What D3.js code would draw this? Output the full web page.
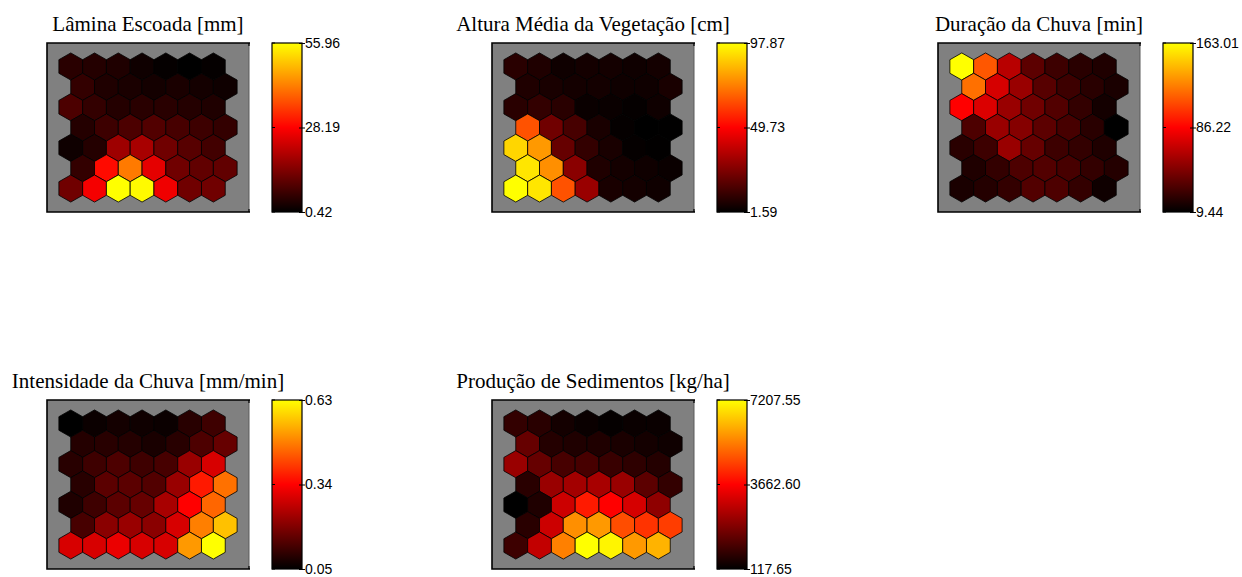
<!DOCTYPE html>
<html>
<head>
<meta charset="utf-8">
<script src="https://cdn.jsdelivr.net/npm/d3@7"></script>
<style>
  body { margin: 0; background: #fff; }
  .title { font-family: "Liberation Serif", "Times New Roman", serif; font-size: 21px; fill: #000; }
  .cbar text { font-family: "Liberation Sans", Arial, sans-serif; font-size: 14px; fill: #000; }
</style>
</head>
<body>
<div id="chart"></div>
<script>
// Component planes of a 7x7 hexagonal SOM (rows top to bottom, odd rows shifted right)
const titles = [
    "Lâmina Escoada [mm]",
    "Altura Média da Vegetação [cm]",
    "Duração da Chuva [min]",
    "Intensidade da Chuva [mm/min]",
    "Produção de Sedimentos [kg/ha]"
];

const lamina = [
    [4.86, 4.31, 3.75, 2.09, 0.98, 0.42, 0.98],
    [5.97, 3.75, 3.20, 2.64, 3.20, 2.64, 2.09],
    [8.75, 5.97, 4.31, 4.86, 4.86, 4.31, 3.75],
    [4.31, 7.08, 8.75, 9.31, 8.20, 7.08, 5.97],
    [2.09, 4.31, 17.64, 18.75, 12.64, 9.86, 7.64],
    [5.97, 29.30, 41.52, 25.41, 12.64, 10.97, 10.97],
    [12.64, 27.08, 55.96, 55.40, 26.52, 12.64, 12.64]
];

const altura = [
    [9.29, 7.37, 4.48, 5.44, 5.44, 4.48, 5.44],
    [7.37, 6.40, 5.44, 5.44, 4.48, 4.48, 6.40],
    [9.29, 11.22, 9.29, 3.52, 3.52, 2.55, 4.48],
    [65.13, 22.77, 15.07, 6.40, 2.55, 1.59, 1.80],
    [90.17, 78.61, 20.85, 11.22, 6.40, 2.55, 1.90],
    [93.06, 76.69, 27.59, 7.37, 5.44, 4.48, 3.52],
    [97.87, 93.06, 65.13, 30.47, 6.40, 5.44, 4.48]
];

const duracao = [
    [163.01, 112.33, 64.73, 37.08, 27.87, 21.73, 18.65],
    [120.01, 73.94, 55.51, 35.55, 27.87, 21.73, 17.12],
    [86.23, 75.48, 55.51, 43.23, 34.01, 24.80, 15.58],
    [32.48, 55.51, 49.37, 37.08, 30.94, 21.73, 9.44],
    [21.73, 27.87, 55.51, 40.15, 27.87, 24.80, 18.65],
    [18.65, 24.80, 32.48, 34.01, 30.94, 24.80, 20.19],
    [17.12, 20.19, 24.80, 34.01, 32.48, 24.80, 14.05]
];

const intensidade = [
    [0.050, 0.062, 0.073, 0.067, 0.062, 0.096, 0.120],
    [0.091, 0.096, 0.091, 0.079, 0.096, 0.137, 0.166],
    [0.096, 0.120, 0.137, 0.120, 0.131, 0.224, 0.294],
    [0.096, 0.154, 0.154, 0.143, 0.224, 0.369, 0.468],
    [0.085, 0.120, 0.154, 0.166, 0.241, 0.340, 0.456],
    [0.131, 0.207, 0.224, 0.207, 0.294, 0.485, 0.560],
    [0.294, 0.294, 0.317, 0.294, 0.294, 0.514, 0.630]
];

const producao = [
    [826.64, 684.84, 401.25, 259.45, 188.55, 259.45, 259.45],
    [1535.63, 613.94, 543.05, 543.05, 472.15, 401.25, 330.35],
    [2244.62, 1535.63, 1110.24, 1110.24, 897.54, 755.74, 613.94],
    [684.84, 2244.62, 2386.42, 2457.32, 2244.62, 1393.83, 826.64],
    [117.65, 543.05, 2953.61, 4017.10, 3662.60, 3095.41, 2102.82],
    [684.84, 2953.61, 5647.77, 5789.57, 4726.09, 4371.59, 4513.39],
    [968.44, 2811.81, 5435.08, 7207.55, 7065.75, 5789.57, 6144.07]
];

// colorbar limits and tick labels (bottom, middle, top)
const cbarMin = [0.42, 1.59, 9.44, 0.05, 117.65];
const cbarMax = [55.96, 97.87, 163.01, 0.63, 7207.55];
const cbarLabels = [
    ["0.42", "28.19", "55.96"],
    ["1.59", "49.73", "97.87"],
    ["9.44", "86.22", "163.01"],
    ["0.05", "0.34", "0.63"],
    ["117.65", "3662.60", "7207.55"]
];

const planes = [lamina, altura, duracao, intensidade, producao];

// layout
const panelPos = [[47, 43], [492, 43], [938, 43], [47, 400], [492, 400]];
const axW = 202, axH = 169;
const cbarGap = 225, cbarW = 30;
const sq3 = Math.sqrt(3);

const svg = d3.select("#chart").append("svg")
    .attr("width", 1242)
    .attr("height", 577);

// hexagon outline in map units (pointy top, unit spacing between neighbours)
const hexCorners = d3.range(6).map(k => {
    const a = Math.PI / 6 + k * Math.PI / 3;
    return [Math.cos(a) / sq3, Math.sin(a) / sq3];
});

planes.forEach((plane, i) => {
    const [px, py] = panelPos[i];
    const g = svg.append("g").attr("transform", `translate(${px},${py})`);

    const nRows = plane.length;
    const xScale = d3.scaleLinear().domain([0, 8.5]).range([0, axW]);
    const yScale = d3.scaleLinear().domain([0, (nRows - 1) * sq3 / 2 + 2]).range([0, axH]);

    const mid = (cbarMin[i] + cbarMax[i]) / 2;
    const color = d3.scaleLinear()
        .domain([cbarMin[i], mid, cbarMax[i]])
        .range(["#000000", "#ff0000", "#ffff00"])
        .clamp(true);

    // axes background
    g.append("rect")
        .attr("width", axW)
        .attr("height", axH)
        .attr("fill", "#808080");

    const cells = [];
    plane.forEach((row, r) => {
        row.forEach((v, c) => {
            cells.push({
                x: c + 1 + (r % 2 ? 0.5 : 0),
                y: 1 + r * sq3 / 2,
                v: v
            });
        });
    });

    const line = d3.line();
    g.selectAll(".hex")
        .data(cells)
        .enter()
        .append("path")
        .attr("class", "hex")
        .attr("d", d => line(hexCorners.map(p => [xScale(d.x + p[0]), yScale(d.y + p[1])])) + "Z")
        .attr("fill", d => color(d.v))
        .attr("stroke", "#000")
        .attr("stroke-width", 0.8);

    // box: right edge lighter, others black
    g.append("line").attr("x1", axW).attr("x2", axW).attr("y1", 0).attr("y2", axH)
        .attr("stroke", "#5a5a5a").attr("stroke-width", 1);
    g.append("path")
        .attr("d", `M${axW + 1},0H0V${axH}H${axW + 1}`)
        .attr("fill", "none")
        .attr("stroke", "#000")
        .attr("stroke-width", 1.6);
    g.append("path")
        .attr("d", `M${axW},0v3M${axW},${axH}v-3`)
        .attr("stroke", "#000")
        .attr("stroke-width", 1.2);

    // title
    g.append("text")
        .attr("class", "title")
        .attr("x", axW / 2)
        .attr("y", -12.5)
        .attr("text-anchor", "middle")
        .text(titles[i]);

    // colorbar
    const cb = g.append("g").attr("class", "cbar").attr("transform", `translate(${cbarGap},0)`);
    const gradId = "grad" + i;
    const grad = svg.append("defs").append("linearGradient")
        .attr("id", gradId)
        .attr("x1", 0).attr("y1", 1).attr("x2", 0).attr("y2", 0);
    d3.range(0, 1.0001, 0.05).forEach(t => {
        grad.append("stop")
            .attr("offset", t)
            .attr("stop-color", color(cbarMin[i] + t * (cbarMax[i] - cbarMin[i])));
    });

    cb.append("rect")
        .attr("width", cbarW)
        .attr("height", axH)
        .attr("fill", `url(#${gradId})`)
        .attr("stroke", "#000")
        .attr("stroke-width", 1.2);

    const cScale = d3.scaleLinear().domain([cbarMin[i], cbarMax[i]]).range([axH, 0]);
    const tickVals = [cbarMin[i], mid, cbarMax[i]];

    const axis = cb.append("g")
        .attr("transform", `translate(${cbarW},0)`)
        .call(d3.axisRight(cScale)
            .tickValues(tickVals)
            .tickSize(3)
            .tickPadding(0)
            .tickFormat((d, k) => cbarLabels[i][k]));
    axis.select(".domain").remove();
    axis.selectAll(".tick line").attr("x1", -3).attr("stroke", "#000");
    axis.selectAll(".tick text")
        .attr("font-size", 14)
        .attr("font-family", "Liberation Sans, Arial, sans-serif")
        .attr("dy", "0.3em");

    // small inner tick at the left side of the colorbar
    cb.selectAll(".ltick")
        .data(tickVals)
        .enter()
        .append("line")
        .attr("x1", 0).attr("x2", 3)
        .attr("y1", d => cScale(d)).attr("y2", d => cScale(d))
        .attr("stroke", "#000");
});
</script>
</body>
</html>
